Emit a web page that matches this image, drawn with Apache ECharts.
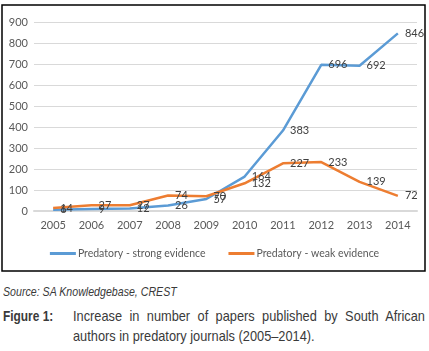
<!DOCTYPE html>
<html>
<head>
<meta charset="utf-8">
<script src="https://cdn.jsdelivr.net/npm/echarts@6/dist/echarts.min.js"></script>
<style>
    body{margin:0;background:#fff;width:429px;height:351px;overflow:hidden;position:relative;}
    #chart{position:absolute;left:0;top:0;width:429px;height:276px;}
    .narrow{position:absolute;font-family:"Liberation Sans",Arial,sans-serif;white-space:nowrap;transform-origin:0 0;color:#3a3a3a;line-height:17px;}
    #source{left:3px;top:283px;font-style:italic;font-size:13px;}
    #fig{left:3px;top:307px;font-weight:bold;font-size:15px;}
    #line1{left:73px;top:307px;font-size:15px;text-align:justify;text-align-last:justify;}
    #line2{left:73px;top:327px;font-size:15px;}
</style>
</head>
<body>
<div id="chart"></div>
<div class="narrow" id="source">Source: SA Knowledgebase, CREST</div>
<div class="narrow" id="fig">Figure 1:</div>
<div class="narrow" id="line1">Increase in number of papers published by South African</div>
<div class="narrow" id="line2">authors in predatory journals (2005–2014).</div>
<script>
    var years = ['2005','2006','2007','2008','2009','2010','2011','2012','2013','2014']
    var strongEvidence = [6, 9, 12, 26, 57, 164, 383, 696, 692, 846]
    var weakEvidence = [14, 27, 27, 74, 70, 132, 227, 233, 139, 72]
    var seriesNames = ['Predatory - strong evidence', 'Predatory - weak evidence']
    var seriesColors = ['#5B9BD5', '#ED7D31']

    // squeeze caption text to the condensed look of the original
    function fitWidth(id, target){
        var el = document.getElementById(id)
        var s = target / el.offsetWidth
        el.style.transform = 'scaleX(' + s + ')'
        return s
    }
    fitWidth('source', 174)
    fitWidth('fig', 50)
    var s2 = fitWidth('line2', 242)
    var l1 = document.getElementById('line1')
    l1.style.width = (352 / s2) + 'px'
    l1.style.transform = 'scaleX(' + s2 + ')'

    var myChart = echarts.init(document.getElementById('chart'))

    function makeSeries(name, data, color){
        return {
            name: name,
            type: 'line',
            data: data,
            symbol: 'circle',
            symbolSize: 0.1,
            showSymbol: true,
            lineStyle: {color: color, width: 2.5},
            itemStyle: {color: color},
            labelLayout: {hideOverlap: false},
            label: {
                show: true,
                position: 'right',
                distance: 7,
                color: '#404040',
                fontSize: 11,
                fontFamily: 'Lato'
            }
        }
    }

    var option = {
        animation: false,
        graphic: [{
            type: 'rect',
            shape: {x: 2, y: 5, width: 423, height: 266},
            style: {fill: 'none', stroke: '#000', lineWidth: 1.5}
        }],
        legend: {
            data: seriesNames,
            top: 243,
            left: 'center',
            icon: 'rect',
            itemWidth: 26,
            itemHeight: 3,
            itemGap: 23,
            textStyle: {color: '#595959', fontSize: 10.5, fontFamily: 'Lato', padding: [0, 0, 0, -3]}
        },
        grid: {left: 34, right: 12, top: 22, bottom: 65},
        xAxis: {
            type: 'category',
            data: years,
            boundaryGap: true,
            axisLine: {lineStyle: {color: '#d9d9d9', width: 2}},
            axisTick: {show: false},
            axisLabel: {color: '#595959', fontSize: 11, fontFamily: 'Lato', margin: 9}
        },
        yAxis: {
            type: 'value',
            min: 0,
            max: 900,
            interval: 100,
            axisLine: {show: false},
            axisTick: {show: false},
            axisLabel: {color: '#595959', fontSize: 11, fontFamily: 'Lato', margin: 6},
            splitLine: {lineStyle: {color: '#d9d9d9', width: 1}}
        },
        series: [
            makeSeries(seriesNames[0], strongEvidence, seriesColors[0]),
            makeSeries(seriesNames[1], weakEvidence, seriesColors[1])
        ]
    }
    myChart.setOption(option)
</script>
</body>
</html>
